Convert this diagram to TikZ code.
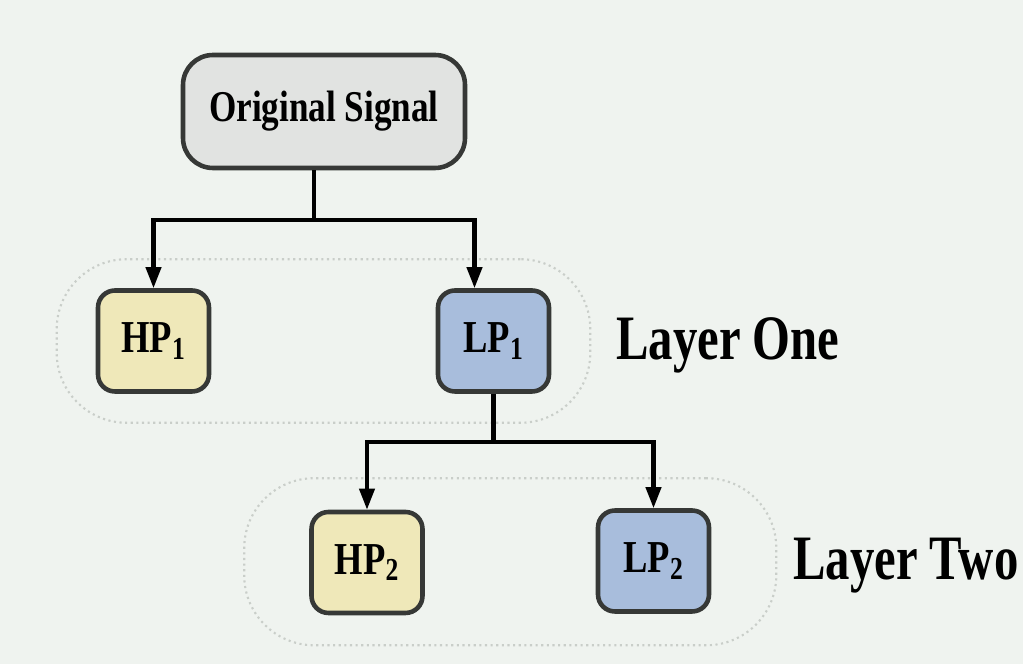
\documentclass[tikz,border=0pt]{standalone}
\usepackage{graphicx}
\usepackage{fontspec}
\setmainfont{Liberation Serif}
\usetikzlibrary{arrows.meta, fit, backgrounds, calc}

\definecolor{bgpaper}{HTML}{EFF3EF}
\definecolor{boxline}{HTML}{363836}
\definecolor{origfill}{HTML}{E1E3E1}
\definecolor{hpfill}{HTML}{EFE8B9}
\definecolor{lpfill}{HTML}{A8BDDC}
\definecolor{groupline}{HTML}{C9CEC9}

% narrow the bold serif a little, as the scan is squeezed sideways
\newcommand{\squeeze}[2]{\scalebox{#1}[1]{#2}}

\begin{document}
\begin{tikzpicture}[
  sigbox/.style={draw=boxline, line width=2.6pt, rounded corners=0.6cm,
                 fill=origfill, minimum width=5.64cm, minimum height=2.26cm,
                 font=\fontsize{25}{30}\selectfont\bfseries},
  band/.style={draw=boxline, line width=2.6pt, rounded corners=0.34cm,
               minimum width=2.22cm, minimum height=2.02cm, inner sep=0pt,
               font=\fontsize{26}{30}\selectfont\bfseries},
  hpband/.style={band, fill=hpfill},
  lpband/.style={band, fill=lpfill},
  layerlbl/.style={anchor=base west, inner sep=0pt,
                   font=\fontsize{36}{40}\selectfont\bfseries},
  group/.style={draw=groupline, dotted, line width=1.2pt, rounded corners=1.4cm},
  tree/.style={line width=2.3pt, black},
  treearr/.style={tree, -{Triangle[length=0.42cm, width=0.3cm]}}
]

\useasboundingbox (0,0) rectangle (20.46,13.28);

%% ── Nodes ──────────────────────────────────────────────────────────────────

\node[sigbox] (orig) at (6.48, 11.05) {\squeeze{0.8}{Original Signal}};

% Layer one
\node[hpband] (hp1) at (3.07, 6.46) {\squeeze{0.8}{HP\textsubscript{1}}};
\node[lpband] (lp1) at (9.87, 6.46) {\squeeze{0.8}{LP\textsubscript{1}}};

% Layer two
\node[hpband] (hp2) at (7.34, 2.03) {\squeeze{0.8}{HP\textsubscript{2}}};
\node[lpband] (lp2) at (13.07, 2.06) {\squeeze{0.8}{LP\textsubscript{2}}};

\node[layerlbl] (one) at (12.32, 6.08) {\squeeze{0.77}{Layer One}};
\node[layerlbl] (two) at (15.86, 1.68) {\squeeze{0.77}{Layer Two}};

%% ── Groups and paper ───────────────────────────────────────────────────────

\begin{pgfonlayer}{background}
  \fill[bgpaper] (0,0) rectangle (20.46,13.28);
  \node[group, fit=(hp1)(lp1), inner xsep=0.78cm, inner ysep=0.58cm] (grp1) {};
  \node[group, fit=(hp2)(lp2), inner xsep=1.3cm, inner ysep=0.6cm] (grp2) {};
\end{pgfonlayer}

%% ── Connectors ─────────────────────────────────────────────────────────────

% Original signal splits into HP1 / LP1
\coordinate (stem1) at ([xshift=-0.2cm]orig.south);
\coordinate (fork1) at ($(stem1)+(0,-1.0)$);
\draw[tree] (stem1) -- (fork1);
\draw[treearr] (fork1) -| (hp1.north);
\draw[treearr] (fork1) -| ([xshift=-0.38cm]lp1.north);

% LP1 splits into HP2 / LP2
\coordinate (fork2) at ($(lp1.south)+(0,-0.96)$);
\draw[tree] (lp1.south) -- (fork2);
\draw[treearr] (fork2) -| (hp2.north);
\draw[treearr] (fork2) -| (lp2.north);

\end{tikzpicture}
\end{document}
